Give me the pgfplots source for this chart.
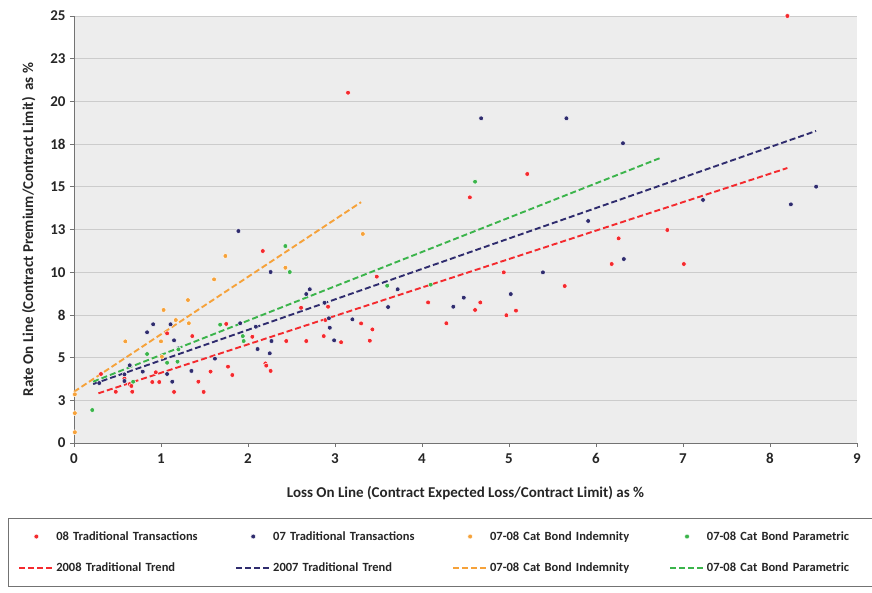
\documentclass[border=0pt]{standalone}
\usepackage{fontspec}
\setmainfont{Carlito}
\usepackage{pgfplots}
\pgfplotsset{compat=1.18}

\definecolor{tradred}{HTML}{F42A2E}
\definecolor{tradnavy}{HTML}{2F2C6E}
\definecolor{catorange}{HTML}{F6A23A}
\definecolor{catgreen}{HTML}{3BB44B}
\definecolor{plotbg}{HTML}{EDEDED}

\pgfplotsset{
  dots/.style={only marks, mark=*, mark size=2.4pt,
    mark options={draw=white, fill=#1, line width=0.45pt}},
  trend/.style={color=#1, dash pattern=on 6pt off 3pt, line width=1.9pt},
}

\begin{document}
\begin{tikzpicture}
\useasboundingbox (-74pt,-149pt) rectangle (798pt,443pt);
\begin{axis}[
  scale only axis, width=783pt, height=427pt,
  xmin=0, xmax=9, ymin=0, ymax=25,
  xtick={0,...,9},
  ytick={0,2.5,...,25},
  yticklabels={0,3,5,8,10,13,15,18,20,23,25},
  axis lines*=left,
  axis line style={black!55, line width=0.8pt},
  tick style={black!55, line width=0.8pt},
  major tick length=4pt, tick align=outside,
  ymajorgrids, grid style={black!20, line width=0.8pt},
  axis background/.style={fill=plotbg},
  clip=false,
  /pgf/number format/assume math mode=true,
  tick label style={font=\bfseries\fontsize{15}{17}\selectfont, text=black!85},
  xticklabel style={yshift=-3pt},
  yticklabel style={xshift=-1pt},
  label style={font=\bfseries\fontsize{15}{18}\selectfont, text=black!85},
  xlabel={Loss On Line (Contract Expected Loss/Contract Limit) as \%},
  ylabel={Rate On Line (Contract Premium/Contract Limit)\ \ as \%},
  xlabel style={at={(axis description cs:0.5,-0.117)}, anchor=center},
  ylabel style={at={(axis description cs:-0.058,0.5)}, anchor=center},
  legend columns=4,
  legend cell align=left,
  legend image code/.code={\draw[mark repeat=2,mark phase=2] plot coordinates {(0pt,0pt) (17pt,0pt) (34pt,0pt)};},
  legend style={
    at={(axis description cs:-0.0843,-0.1756)}, anchor=north west,
    draw=black!55, line width=0.8pt, fill=white,
    font=\bfseries\fontsize{12.5}{14}\selectfont,
    inner xsep=10pt, inner ysep=11pt, row sep=17pt,
    nodes={text width=160pt, inner sep=2pt, text=black!85},
    /tikz/every even column/.append style={column sep=17pt},
  },
]
% 08 traditional transactions
\addplot[dots=tradred] coordinates {
  (0.31,4.04) (0.48,3.00) (0.58,3.78) (0.64,3.45) (0.67,3.00) (0.66,3.34)
  (0.90,3.57) (0.98,3.57) (0.94,4.14) (1.07,6.42) (1.15,2.99) (1.36,6.26)
  (1.43,3.59) (1.49,2.99) (1.57,4.18) (1.75,6.97) (1.77,4.47) (1.82,3.98)
  (2.05,6.22) (2.17,11.24) (2.20,4.66) (2.21,4.53) (2.26,4.22) (2.44,5.97)
  (2.61,7.92) (2.67,5.97) (2.87,6.26) (2.89,7.20) (2.92,7.98) (3.07,5.90)
  (3.15,20.51) (3.30,7.00) (3.40,5.99) (3.43,6.65) (3.48,9.74) (4.07,8.23)
  (4.28,7.01) (4.55,14.38) (4.61,7.79) (4.67,8.23) (4.94,9.99) (4.97,7.48)
  (5.08,7.75) (5.21,15.75) (5.64,9.19) (6.18,10.48) (6.26,11.98) (6.82,12.47)
  (7.01,10.48) (8.20,25.00)
};
\addlegendentry{08 Traditional Transactions}
% 07 traditional transactions
\addplot[dots=tradnavy] coordinates {
  (0.29,3.51) (0.58,3.63) (0.58,4.02) (0.64,4.55) (0.79,4.18) (0.84,6.48)
  (0.91,6.95) (1.07,4.04) (1.11,6.95) (1.13,3.59) (1.15,6.01) (1.20,5.54)
  (1.35,4.22) (1.62,4.94) (1.89,12.41) (1.91,7.01) (2.09,6.81) (2.11,5.50)
  (2.25,5.25) (2.26,10.01) (2.27,5.97) (2.67,8.72) (2.71,9.00) (2.88,8.21)
  (2.93,7.30) (2.94,6.75) (2.99,6.01) (3.20,7.24) (3.61,7.96) (3.72,9.00)
  (4.36,7.98) (4.48,8.51) (4.68,19.01) (5.02,8.72) (5.39,9.99) (5.66,19.01)
  (5.91,13.00) (6.31,17.55) (6.32,10.77) (7.23,14.23) (8.24,13.97) (8.53,15.01)
};
\addlegendentry{07 Traditional Transactions}
% 07-08 cat bond indemnity
\addplot[dots=catorange] coordinates {
  (0.01,2.85) (0.01,1.75) (0.01,0.63) (0.59,5.95) (1.00,5.95) (1.01,5.05)
  (1.03,7.79) (1.17,7.20) (1.31,8.37) (1.32,7.01) (1.61,9.58) (1.74,10.95)
  (2.43,10.26) (3.32,12.24)
};
\addlegendentry{07-08 Cat Bond Indemnity}
% 07-08 cat bond parametric
\addplot[dots=catgreen] coordinates {
  (0.21,1.93) (0.68,3.59) (0.84,5.21) (1.07,4.70) (1.19,4.76) (1.20,5.48)
  (1.68,6.93) (1.94,6.26) (1.95,5.97) (2.43,11.53) (2.48,10.01) (3.60,9.21)
  (4.10,9.27) (4.61,15.30)
};
\addlegendentry{07-08 Cat Bond Parametric}
% trend lines
\addplot[trend=tradred] coordinates {(0.28,2.91) (8.20,16.10)};
\addlegendentry{2008 Traditional Trend}
\addplot[trend=tradnavy] coordinates {(0.22,3.45) (8.53,18.27)};
\addlegendentry{2007 Traditional Trend}
\addplot[trend=catorange] coordinates {(0.00,3.00) (3.30,14.10)};
\addlegendentry{07-08 Cat Bond Indemnity}
\addplot[trend=catgreen] coordinates {(0.22,3.59) (6.73,16.67)};
\addlegendentry{07-08 Cat Bond Parametric}
\end{axis}
\end{tikzpicture}
\end{document}
